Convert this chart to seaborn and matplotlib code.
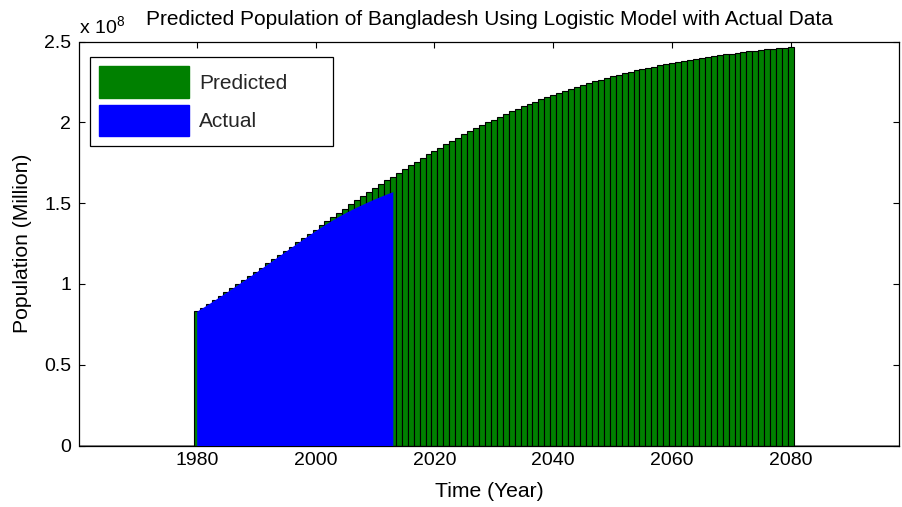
import numpy as np
import pandas as pd
import matplotlib
matplotlib.use("Agg")
import matplotlib.pyplot as plt
from matplotlib.patches import Patch
from matplotlib.ticker import FuncFormatter, FixedLocator
import seaborn as sns

# Predicted population (logistic model), millions, 1980-2080
pred_years = list(range(1980, 2081))
pred_pop = [
    83.10, 85.42, 87.78, 90.16, 92.58, 95.02, 97.49, 99.98, 102.50, 105.03,
    107.58, 110.15, 112.74, 115.33, 117.94, 120.55, 123.17, 125.80, 128.42, 131.05,
    133.67, 136.29, 138.90, 141.50, 144.08, 146.66, 149.22, 151.76, 154.28, 156.78,
    159.25, 161.70, 164.12, 166.52, 168.88, 171.22, 173.52, 175.78, 178.01, 180.21,
    182.37, 184.49, 186.57, 188.61, 190.62, 192.58, 194.50, 196.38, 198.22, 200.01,
    201.77, 203.48, 205.16, 206.79, 208.38, 209.93, 211.43, 212.90, 214.33, 215.72,
    217.07, 218.38, 219.65, 220.89, 222.09, 223.25, 224.38, 225.47, 226.53, 227.55,
    228.54, 229.51, 230.43, 231.33, 232.20, 233.04, 233.86, 234.64, 235.40, 236.13,
    236.84, 237.52, 238.18, 238.82, 239.43, 240.02, 240.59, 241.14, 241.67, 242.18,
    242.67, 243.15, 243.61, 244.05, 244.47, 244.88, 245.27, 245.65, 246.01, 246.36,
    246.70,
]

# Actual population, millions, 1980-2013
actual_years = list(range(1980, 2014))
actual_pop = [
    83.1, 85.4, 87.7, 90.1, 92.5, 94.9, 97.4, 99.9, 102.4, 104.9,
    107.4, 110.0, 112.6, 115.2, 117.8, 120.4, 123.0, 125.5, 128.1, 130.6,
    133.1, 135.5, 137.8, 140.0, 142.1, 144.1, 146.0, 147.8, 149.5, 151.2,
    152.8, 154.3, 155.8, 157.2,
]

x_ticks = [1980, 2000, 2020, 2040, 2060, 2080]
y_ticks = [0, 50, 100, 150, 200, 250]

GREEN = "#008000"
BLUE = "#0000ff"

sns.set_theme(style="white")
plt.rcParams["font.family"] = ["Liberation Sans", "DejaVu Sans"]
plt.rcParams["mathtext.fontset"] = "custom"
plt.rcParams["mathtext.rm"] = "Liberation Sans"
plt.rcParams["mathtext.it"] = "Liberation Sans"

W, H = 903, 507
fig = plt.figure(figsize=(W / 100, H / 100), dpi=100)
left, right, bottom, top = 79.5, 899.0, 445.5, 41.7
ax = fig.add_axes([left / W, 1 - bottom / H, (right - left) / W, (bottom - top) / H])

df_pred = pd.DataFrame({"year": pred_years, "pop": pred_pop})
sns.barplot(data=df_pred, x="year", y="pop", native_scale=True, width=1.0,
            color=GREEN, saturation=1, edgecolor="black", linewidth=0.8,
            errorbar=None, ax=ax, zorder=2)

ax.fill_between(actual_years, actual_pop, 0, color=BLUE, linewidth=0, zorder=3)

# baseline at zero
ax.axhline(0, color="#808080", linewidth=2.0, zorder=1.5)

x0 = 1980 - (196.7 - left) / 5.943
x1 = 1980 + (right - 196.7) / 5.943
ax.set_xlim(x0, x1)
ax.set_ylim(0, 250)
ax.xaxis.set_major_locator(FixedLocator(x_ticks))
ax.yaxis.set_major_locator(FixedLocator(y_ticks))
ax.yaxis.set_major_formatter(FuncFormatter(lambda v, p: f"{v/100:g}"))
ax.xaxis.set_major_formatter(FuncFormatter(lambda v, p: f"{int(round(v))}"))

for s in ax.spines.values():
    s.set_visible(True)
    s.set_color("black")
    s.set_linewidth(0.9)

ax.tick_params(axis="both", which="major", direction="in", length=4, width=0.8,
               color="black", labelsize=14, labelcolor="black",
               top=True, right=True, bottom=True, left=True)
ax.tick_params(axis="x", pad=5)
ax.tick_params(axis="y", pad=6)

ax.set_xlabel("Time (Year)", fontsize=15.2, color="black", labelpad=9)
ax.set_ylabel("Population (Million)", fontsize=15.2, color="black", labelpad=9)
ax.set_title("Predicted Population of Bangladesh Using Logistic Model with Actual Data",
             fontsize=15, color="black", pad=12)

ax.text(0.0, 1.012, r"x 10$^{8}$", transform=ax.transAxes, ha="left", va="bottom",
        fontsize=14, color="black")

handles = [Patch(facecolor=GREEN, edgecolor=GREEN, label="Predicted"),
           Patch(facecolor=BLUE, edgecolor=BLUE, label="Actual")]
lx0 = (90 - left) / (right - left)
ly1 = (bottom - 57) / (bottom - top)
lw = (333 - 90) / (right - left)
lh = (146 - 57) / (bottom - top)
leg = ax.legend(handles=handles, loc="upper left",
                bbox_to_anchor=(lx0, ly1 - lh, lw, lh), mode="expand",
                borderaxespad=0, fontsize=15, frameon=True, fancybox=False,
                edgecolor="black", framealpha=1, handlelength=4.3,
                handleheight=1.95, labelspacing=0.33, borderpad=0.45,
                handletextpad=0.5)
leg.get_frame().set_linewidth(0.9)
leg.set_zorder(5)

fig.savefig("out.png", dpi=100)
